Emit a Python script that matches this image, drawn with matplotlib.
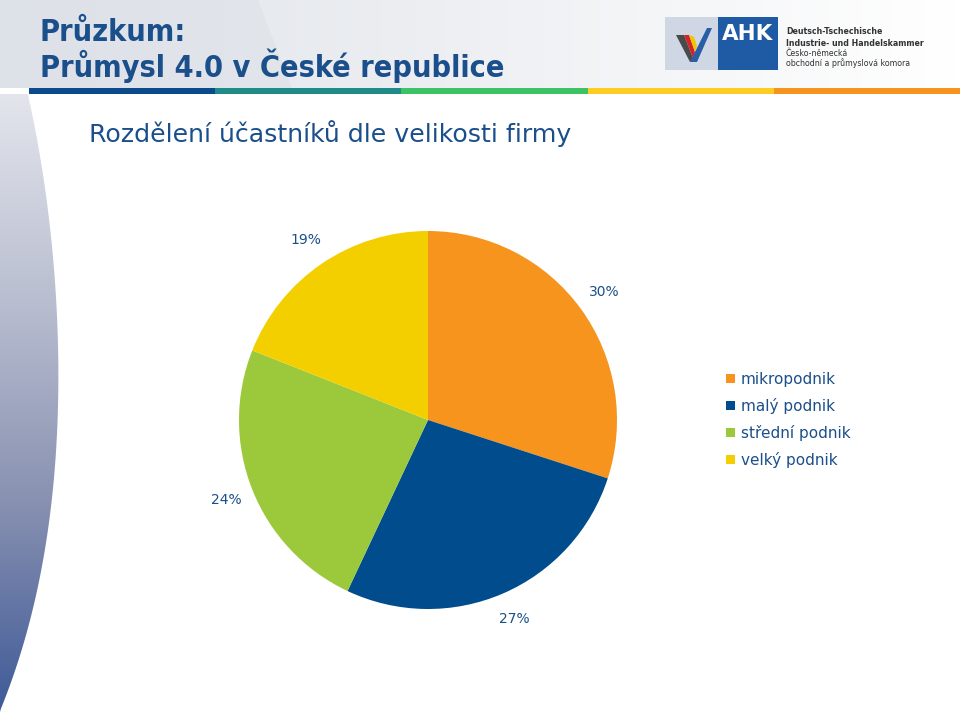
import numpy as np
import matplotlib
matplotlib.use("Agg")
import matplotlib.pyplot as plt
from matplotlib.patches import Polygon, Rectangle
from matplotlib.colors import LinearSegmentedColormap

# ---- data ----
categories = ["mikropodnik", "malý podnik", "střední podnik", "velký podnik"]
shares = [30, 27, 24, 19]
colors = ["#f7941d", "#004c8c", "#9cc83c", "#f4cf00"]

title_lines = ["Průzkum:", "Průmysl 4.0 v České republice"]
subtitle = "Rozdělení účastníků dle velikosti firmy"
stripe_colors = ["#0b4a8b", "#1f8c89", "#3ec266", "#fdcd23", "#f7941d"]
logo_lines = ["Deutsch-Tschechische", "Industrie- und Handelskammer",
              "Česko-německá", "obchodní a průmyslová komora"]

TXT = "#1a4f8b"
W, H = 960, 717
fig = plt.figure(figsize=(W / 100, H / 100), dpi=100)

# ---- background (pixel coords) ----
bg = fig.add_axes([0, 0, 1, 1])
bg.set_xlim(0, W)
bg.set_ylim(H, 0)
bg.axis("off")

# header gradient
hcm = LinearSegmentedColormap.from_list("h", ["#dfe3e9", "#eef0f3", "#ffffff"])
grad = np.linspace(0, 1, 256)[None, :]
bg.imshow(grad, cmap=hcm, extent=[0, W, 88, 0], aspect="auto", zorder=0)
hp = Polygon([[0, 0], [258, 0], [292, 88], [0, 88]], closed=True,
             facecolor="#dde1e8", edgecolor="none", alpha=0.55, zorder=0.5)
bg.add_patch(hp)

# left swoosh
ys = np.array([94, 180, 260, 330, 413, 513, 610, 640, 680, 712])
xs = np.array([28, 43, 54, 58, 57, 50, 34, 24, 11, 0])
coef = np.polyfit(ys, xs, 4)
yy = np.linspace(94, 712, 200)
xx = np.clip(np.polyval(coef, yy), 0, None)
verts = np.column_stack([xx, yy]).tolist() + [[0, 712], [0, 94]]
sw = Polygon(verts, closed=True, facecolor="none", edgecolor="none")
bg.add_patch(sw)
scm = LinearSegmentedColormap.from_list("s", ["#e3e5ec", "#b9bed0", "#8790b0", "#3f5a98"])
vg = np.linspace(0, 1, 256)[:, None]
im = bg.imshow(vg, cmap=scm, extent=[0, 70, 712, 94], aspect="auto", zorder=1)
im.set_clip_path(sw)

# stripe
seg_w = (W - 29) / len(stripe_colors)
for i, c in enumerate(stripe_colors):
    bg.add_patch(Rectangle((29 + i * seg_w, 88), seg_w, 6, facecolor=c,
                           edgecolor="none", zorder=2))

# titles
tfam = ["DejaVu Sans"]
bg.text(40, 41, title_lines[0], fontsize=22, color=TXT, fontstretch="condensed",
        fontweight="bold", family=tfam, va="baseline", ha="left", zorder=3)
bg.text(40, 77, title_lines[1], fontsize=22, color=TXT, fontstretch="condensed",
        fontweight="bold", family=tfam, va="baseline", ha="left", zorder=3)
bg.text(89, 142, subtitle, fontsize=18.2, color=TXT, family=["DejaVu Sans"],
        va="baseline", ha="left", zorder=3)

# logo
bg.add_patch(Rectangle((665, 17), 53, 53, facecolor="#cfd7e4", edgecolor="none", zorder=3))
bg.add_patch(Polygon([[676, 35], [684, 35], [693, 58], [690, 62]], closed=True,
                     facecolor="#4a4a4a", edgecolor="none", zorder=4))
bg.add_patch(Polygon([[684, 35], [689, 35], [695, 52], [693, 58]], closed=True,
                     facecolor="#d2232a", edgecolor="none", zorder=4))
bg.add_patch(Polygon([[689, 35], [694, 37], [697, 46], [695, 52]], closed=True,
                     facecolor="#f2c500", edgecolor="none", zorder=4))
bg.add_patch(Polygon([[690, 62], [697, 62], [712, 28], [707, 28]], closed=True,
                     facecolor="#2a5da8", edgecolor="none", zorder=4))
bg.add_patch(Rectangle((718, 17), 60, 53, facecolor="#1f5aa5", edgecolor="none", zorder=3))
bg.text(748, 34, "AHK", fontsize=15.5, fontweight="bold", color="white",
        ha="center", va="center", family=["DejaVu Sans"], zorder=4)
for i, (t, y) in enumerate(zip(logo_lines, [32, 43, 53, 63])):
    bg.text(786, y, t, fontsize=6.3, color="#333333", ha="left", va="center",
            fontweight="bold" if i < 2 else "normal", family=["DejaVu Sans"],
            fontstretch="condensed", zorder=4)

# ---- pie ----
R = 189.0
cx, cy = 428.0, 420.0
half = 250.0
ax = fig.add_axes([(cx - half) / W, (H - cy - half) / H, 2 * half / W, 2 * half / H])
ax.set_zorder(5)
ax.patch.set_alpha(0)
wedges, texts = ax.pie(shares, colors=colors, startangle=90, counterclock=False,
                       labels=[f"{s}%" for s in shares], labeldistance=1.15,
                       radius=1.0, wedgeprops=dict(linewidth=0))
for t in texts:
    t.set_color(TXT)
    t.set_fontsize(10)
    t.set_fontweight("medium")
    t.set_ha("center")
    t.set_va("center")
lim = half / R
ax.set_xlim(-lim, lim)
ax.set_ylim(-lim, lim)
ax.set_aspect("equal")
ax.axis("off")

leg = fig.legend(wedges, categories, loc="upper left",
                 bbox_to_anchor=(726 / W, 1 - 372 / H), frameon=False,
                 fontsize=11, handlelength=0.6, handleheight=0.6,
                 handletextpad=0.35, labelspacing=0.72, borderpad=0, borderaxespad=0)
for t in leg.get_texts():
    t.set_color(TXT)

fig.savefig("out.png", dpi=100)
